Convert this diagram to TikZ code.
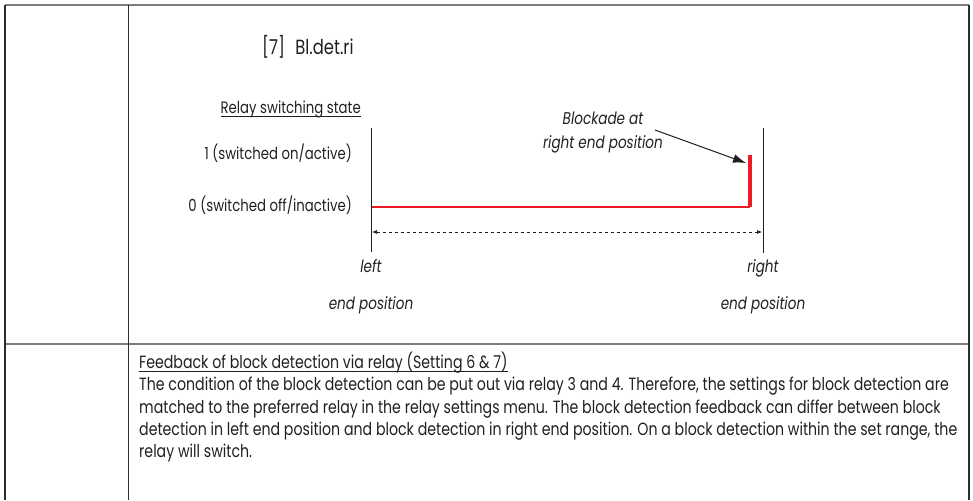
\documentclass[tikz,border=0pt]{standalone}
\usepackage{amsmath}
\usepackage{fontspec}
\setmainfont{Poppins}[FakeStretch=0.8]
\usetikzlibrary{arrows.meta,positioning,calc}
\definecolor{FrameGray}{RGB}{125,125,125}
\definecolor{FrameDark}{RGB}{45,45,45}
\definecolor{RelayRed}{RGB}{237,28,36}
\definecolor{Ink}{RGB}{35,31,32}
\newcommand{\lowul}[1]{\underline{\smash[b]{#1}}}
\tikzset{
  frameline/.style={draw=FrameGray,line width=1.4pt},
  framethick/.style={draw=FrameDark,line width=2.6pt},
  divider/.style={draw=FrameDark,line width=0.9pt},
  endline/.style={draw=Ink,line width=1pt},
  stateline/.style={draw=RelayRed,line width=1.2pt},
  blockbar/.style={draw=RelayRed,line width=4pt},
  travel/.style={{Latex[length=5pt,width=4pt]}-{Latex[length=5pt,width=4pt]},dashed,draw=Ink,line width=0.7pt},
  callout/.style={-{Latex[length=13pt,width=9pt]},draw=Ink,line width=1pt},
  statetext/.style={font=\fontsize{16.6}{18}\selectfont,text=Ink,inner sep=0pt},
  postext/.style={font=\fontsize{17}{37}\selectfont\itshape,text=Ink,align=center,inner sep=0pt},
  paratext/.style={font=\fontsize{17.7}{22.2}\selectfont,text=Ink,align=left,inner sep=0pt,anchor=north west}
}

\begin{document}
\begin{tikzpicture}[x=1pt,y=-1pt]
\useasboundingbox (0,0) rectangle (973,500);
\coordinate (TL) at (5,5);
\coordinate (TR) at (969,5);
\coordinate (BL) at (5,500);
\coordinate (BR) at (969,500);
\coordinate (CT) at (128,5);
\coordinate (CB) at (128,500);
\coordinate (RowL) at (5,344);
\coordinate (RowR) at (969,344);
\coordinate (LT) at (371,128);
\coordinate (LB) at (371,252);
\coordinate (RT) at (763,128);
\coordinate (RB) at (763,253);
\coordinate (Off0) at (372,207);
\coordinate (Off1) at (750,207);
\coordinate (On1) at (750,155);
\coordinate (TravL) at (372,232);
\coordinate (TravR) at (762,232);
\coordinate (ArrTail) at (655,130);
\coordinate (ArrTip) at (746,163);

% table
\draw[frameline](TL)--(TR);\draw[frameline](RowL)--(RowR);\draw[divider](CT)--(CB);
\draw[framethick](TL)--(BL);\draw[framethick](TR)--(BR);

% relay diagram
\draw[endline](LT)--(LB);\draw[endline](RT)--(RB);
\draw[stateline](Off0)--(Off1);
\draw[blockbar](Off1)--(On1);
\draw[travel](TravL)--(TravR);
\draw[callout](ArrTail)--(ArrTip);

\node[statetext,anchor=west,font=\fontsize{20.5}{22}\selectfont] (title) at (262,47) {[7]\enspace Bl.det.ri};
\node[statetext,anchor=east] (state) at (361,109) {\lowul{Relay switching state}};
\node[statetext,anchor=east] (on) at (352,153) {1 (switched on/active)};
\node[statetext,anchor=east] (off) at (352,205) {0 (switched off/inactive)};
\node[postext] (block) at (603,133) {Blockade at\\[-13pt]right end position};
\node[postext,anchor=north] (leftpos) at (371,259) {left\\end position};
\node[postext,anchor=north] (rightpos) at (763,259) {right\\end position};

\node[paratext] (feedback) at (139,352) {\lowul{Feedback of block detection via relay (Setting 6 \& 7)}\\
The condition of the block detection can be put out via relay 3 and 4. Therefore, the settings for block detection are\\
matched to the preferred relay in the relay settings menu. The block detection feedback can differ between block\\
detection in left end position and block detection in right end position. On a block detection within the set range, the\\
relay will switch.};
\end{tikzpicture}
\end{document}
